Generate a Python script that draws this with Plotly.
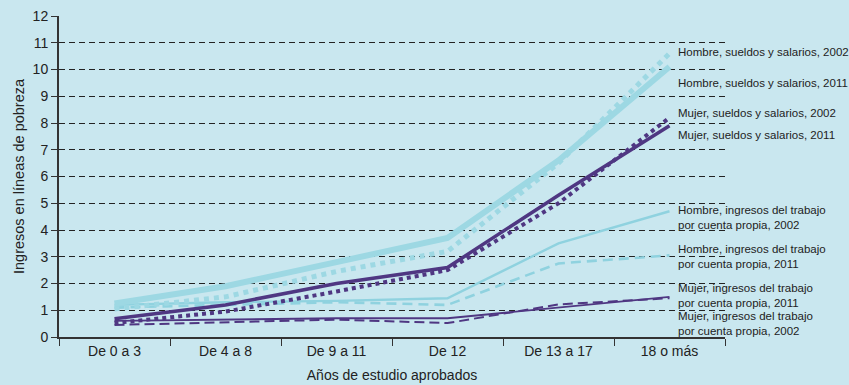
import plotly.graph_objects as go

categories = ["De 0 a 3", "De 4 a 8", "De 9 a 11", "De 12", "De 13 a 17", "18 o más"]

hombre_sueldos_2011 = [1.25, 1.9, 2.8, 3.7, 6.6, 10.1]
hombre_sueldos_2002 = [1.05, 1.5, 2.45, 3.2, 6.5, 10.6]
mujer_sueldos_2011 = [0.68, 1.2, 2.0, 2.6, 5.3, 7.9]
mujer_sueldos_2002 = [0.52, 0.95, 1.7, 2.5, 5.0, 8.2]
hombre_cp_2002 = [1.2, 1.3, 1.35, 1.45, 3.5, 4.7]
hombre_cp_2011 = [1.1, 1.2, 1.3, 1.2, 2.75, 3.05]
mujer_cp_2011 = [0.45, 0.55, 0.65, 0.52, 1.22, 1.45]
mujer_cp_2002 = [0.6, 0.65, 0.7, 0.7, 1.1, 1.5]

label_texts = [
    "Hombre, sueldos y salarios, 2002",
    "Hombre, sueldos y salarios, 2011",
    "Mujer, sueldos y salarios, 2002",
    "Mujer, sueldos y salarios, 2011",
    "Hombre, ingresos del trabajo<br>por cuenta propia, 2002",
    "Hombre, ingresos del trabajo<br>por cuenta propia, 2011",
    "Mujer, ingresos del trabajo<br>por cuenta propia, 2011",
    "Mujer, ingresos del trabajo<br>por cuenta propia, 2002",
]
label_y = [10.64, 9.5, 8.38, 7.56, 4.46, 3.0, 1.54, 0.52]

LB = "#9DD8E3"
LB_THIN = "#8FD2DF"
PU = "#4F3782"
BG = "#C9E7EF"

fig = go.Figure()
series = [
    (hombre_cp_2011, LB_THIN, 2.6, "10px,6px"),
    (hombre_cp_2002, LB_THIN, 2.4, "solid"),
    (mujer_cp_2011, PU, 2, "10px,5px"),
    (mujer_cp_2002, PU, 1.8, "solid"),
    (hombre_sueldos_2002, LB, 5, "dot"),
    (hombre_sueldos_2011, LB, 6, "solid"),
    (mujer_sueldos_2002, PU, 4, "dot"),
    (mujer_sueldos_2011, PU, 3.5, "solid"),
]
for vals, col, w, d in series:
    fig.add_trace(go.Scatter(x=categories, y=vals, mode="lines",
                             line=dict(color=col, width=w, dash=d),
                             showlegend=False, hoverinfo="skip"))

for t, yv in zip(label_texts, label_y):
    fig.add_annotation(x=0.927, xref="paper", y=yv, yref="y", text=t,
                       showarrow=False, xanchor="left", yanchor="middle",
                       align="left", font=dict(size=11.5, color="#222"))

fig.update_layout(
    width=849, height=385,
    margin=dict(l=59, r=124, t=16, b=48),
    paper_bgcolor=BG, plot_bgcolor=BG,
    font=dict(family="Liberation Sans, Arial, sans-serif", color="#222", size=14),
    xaxis=dict(type="category", tickson="boundaries", ticks="outside", ticklen=7,
               tickcolor="#333", showline=True, linecolor="#333", linewidth=2,
               showgrid=False, range=[-0.5, 5.5], automargin=False,
               title=dict(text="Años de estudio aprobados", font=dict(size=14), standoff=12),
               tickfont=dict(size=14)),
    yaxis=dict(range=[0, 12], dtick=1, ticks="outside", ticklen=6, tickcolor="#333",
               showline=True, linecolor="#333", linewidth=2, zeroline=False,
               showgrid=True, gridcolor="#222", griddash="6px,4px", gridwidth=1,
               automargin=False,
               title=dict(text="Ingresos en líneas de pobreza", font=dict(size=14.5), standoff=5),
               tickfont=dict(size=14)),
)

fig.write_html("out.html", config={"displayModeBar": False},
               post_script="document.body.style.margin='0';document.body.style.background='#C9E7EF';")
